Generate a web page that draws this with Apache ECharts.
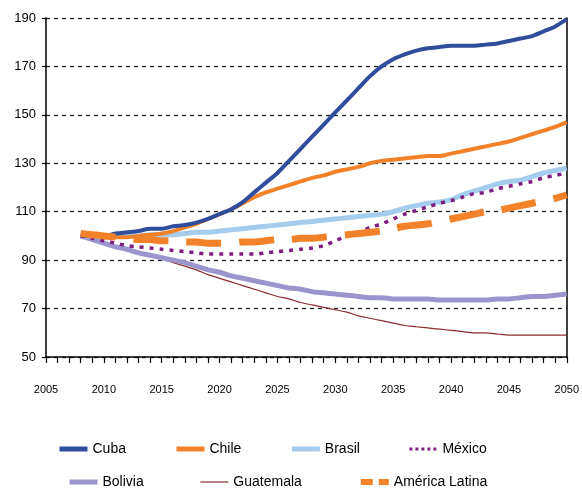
<!DOCTYPE html>
<html>
<head>
<meta charset="utf-8">
<script src="https://cdn.jsdelivr.net/npm/echarts@6/dist/echarts.min.js"></script>
<style>
  html, body { margin: 0; padding: 0; background: #fff; }
  #chart { width: 582px; height: 492px; }
</style>
</head>
<body>
<div id="chart"></div>
<script>
// años 2008..2050
const years = [];
for (let y = 2008; y <= 2050; y++) years.push(y);

const cuba = [100, 100, 100, 101, 101.5, 102, 103, 103, 104, 104.5, 105.5, 107, 109, 111, 114, 118, 122, 126, 131, 136, 141, 146, 151, 156, 161, 166, 170, 173, 175, 176.5, 177.5, 178, 178.5, 178.5, 178.5, 179, 179.5, 180.5, 181.5, 182.5, 184.5, 186.5, 189.5];
const chile = [101, 100.5, 100, 99.5, 99.5, 100, 100.5, 101, 102, 103.5, 105, 107, 109, 111, 113.5, 116, 118, 119.5, 121, 122.5, 124, 125, 126.5, 127.5, 128.5, 130, 131, 131.5, 132, 132.5, 133, 133, 134, 135, 136, 137, 138, 139, 140.5, 142, 143.5, 145, 147];
const brasil = [100, 100, 100, 100, 100, 100, 100.5, 100.5, 100.5, 101, 101.5, 101.5, 102, 102.5, 103, 103.5, 104, 104.5, 105, 105.5, 106, 106.5, 107, 107.5, 108, 108.5, 109, 110, 111.5, 112.5, 113.5, 114, 115, 117, 118.5, 120, 121.5, 122.5, 123, 124.5, 126, 127, 128];
const mexico = [100, 99, 98, 97, 96, 95.5, 95, 94.5, 94, 93.5, 93, 92.5, 92.5, 92.5, 92.5, 92.5, 93, 93.5, 94, 94.5, 95, 96, 98, 100, 101.5, 103.5, 105, 107, 109, 110.5, 112, 113.5, 114.5, 116, 117.5, 118, 119.5, 120.5, 121.5, 122.5, 124, 125, 126];
const bolivia = [100, 98.5, 97, 95.5, 94.5, 93, 92, 91, 90, 89, 87.5, 86, 85, 83.5, 82.5, 81.5, 80.5, 79.5, 78.5, 78, 77, 76.5, 76, 75.5, 75, 74.5, 74.5, 74, 74, 74, 74, 73.5, 73.5, 73.5, 73.5, 73.5, 74, 74, 74.5, 75, 75, 75.5, 76];
const guatemala = [100, 98.5, 97, 96, 95, 93.5, 92, 90.5, 89, 87.5, 86, 84, 82.5, 81, 79.5, 78, 76.5, 75, 74, 72.5, 71.5, 70.5, 69.5, 68.5, 67, 66, 65, 64, 63, 62.5, 62, 61.5, 61, 60.5, 60, 60, 59.5, 59, 59, 59, 59, 59, 59];
const americaLatina = [101, 100.5, 100, 99.5, 99, 98.5, 98.5, 98, 98, 97.5, 97.5, 97, 97, 97, 97.5, 97.5, 98, 98.5, 98.5, 99, 99, 99.5, 100, 100.5, 101, 101.5, 102, 103, 104, 104.5, 105, 106, 107, 108, 109, 110, 110.5, 111.5, 112.5, 113.5, 114.5, 115.5, 117];

const legendRow1 = ['Cuba', 'Chile', 'Brasil', 'México'];
const legendRow2 = ['Bolivia', 'Guatemala', 'América Latina'];

const FONT = "'Liberation Sans', Arial, sans-serif";

function pares(vals) {
  return years.map((y, i) => [y, vals[i]]);
}

function linea(name, vals, color, width, type, z) {
  return {
    name: name,
    type: 'line',
    symbol: 'none',
    smooth: 0.3,
    z: z,
    data: pares(vals),
    lineStyle: { color: color, width: width, type: type, cap: 'butt' },
    itemStyle: { color: color }
  };
}

// iconos de la leyenda (solo la línea, sin símbolo)
const iconStyle = {
  'Cuba': { width: 5 },
  'Chile': { width: 5 },
  'Brasil': { width: 5 },
  'México': { width: 3, type: [3, 3] },
  'Bolivia': { width: 5 },
  'Guatemala': { width: 1.2 },
  'América Latina': { width: 6, type: [12, 6] }
};

function filaLeyenda(names, left, top, gap) {
  return {
    data: names.map(n => ({ name: n, lineStyle: iconStyle[n] })),
    left: left,
    top: top,
    padding: 0,
    itemWidth: 28,
    itemHeight: 14,
    itemGap: gap,
    itemStyle: { opacity: 0, borderWidth: 0 },
    textStyle: { color: '#000', fontSize: 14, fontFamily: FONT }
  };
}

const chart = echarts.init(document.getElementById('chart'));

const option = {
  animation: false,
  backgroundColor: '#fff',
  grid: { left: 46, right: 9, top: 18, bottom: 135 },
  xAxis: {
    type: 'value',
    min: 2005,
    max: 2050,
    interval: 5,
    axisLine: { lineStyle: { color: '#000', width: 1.5 } },
    axisTick: { length: 6, lineStyle: { color: '#000', width: 1.2 } },
    minorTick: { show: true, splitNumber: 5, length: 6, lineStyle: { color: '#000', width: 1.2 } },
    axisLabel: { color: '#000', fontSize: 11, fontFamily: FONT, margin: 27, formatter: v => String(v) },
    splitLine: { show: false }
  },
  yAxis: [
    {
      type: 'value',
      min: 50,
      max: 190,
      interval: 20,
      axisLine: { show: true, lineStyle: { color: '#000', width: 1.5 } },
      axisTick: { show: true, length: 4, lineStyle: { color: '#000', width: 1.2 } },
      axisLabel: { color: '#000', fontSize: 13, fontFamily: FONT, margin: 10 },
      splitLine: { show: true, lineStyle: { color: '#222', width: 1.3, type: [4, 4] } }
    },
    {
      type: 'value',
      position: 'right',
      min: 50,
      max: 190,
      interval: 20,
      axisLine: { show: true, lineStyle: { color: '#000', width: 1.5 } },
      axisTick: { show: false },
      axisLabel: { show: false },
      splitLine: { show: false }
    }
  ],
  legend: [
    filaLeyenda(legendRow1, 57, 442, 48),
    filaLeyenda(legendRow2, 67, 475, 56)
  ],
  series: [
    linea('Guatemala', guatemala, '#8B2C2C', 1.2, 'solid', 2),
    linea('Bolivia', bolivia, '#9A96CD', 5, 'solid', 3),
    linea('Brasil', brasil, '#A4CCEC', 5, 'solid', 4),
    linea('Chile', chile, '#F28229', 4, 'solid', 5),
    linea('Cuba', cuba, '#2F4D9C', 4, 'solid', 6),
    linea('México', mexico, '#7D1E80', 3.5, [4, 6], 7),
    linea('América Latina', americaLatina, '#F28229', 7, [35, 18], 8)
  ]
};

option && chart.setOption(option);
</script>
</body>
</html>
